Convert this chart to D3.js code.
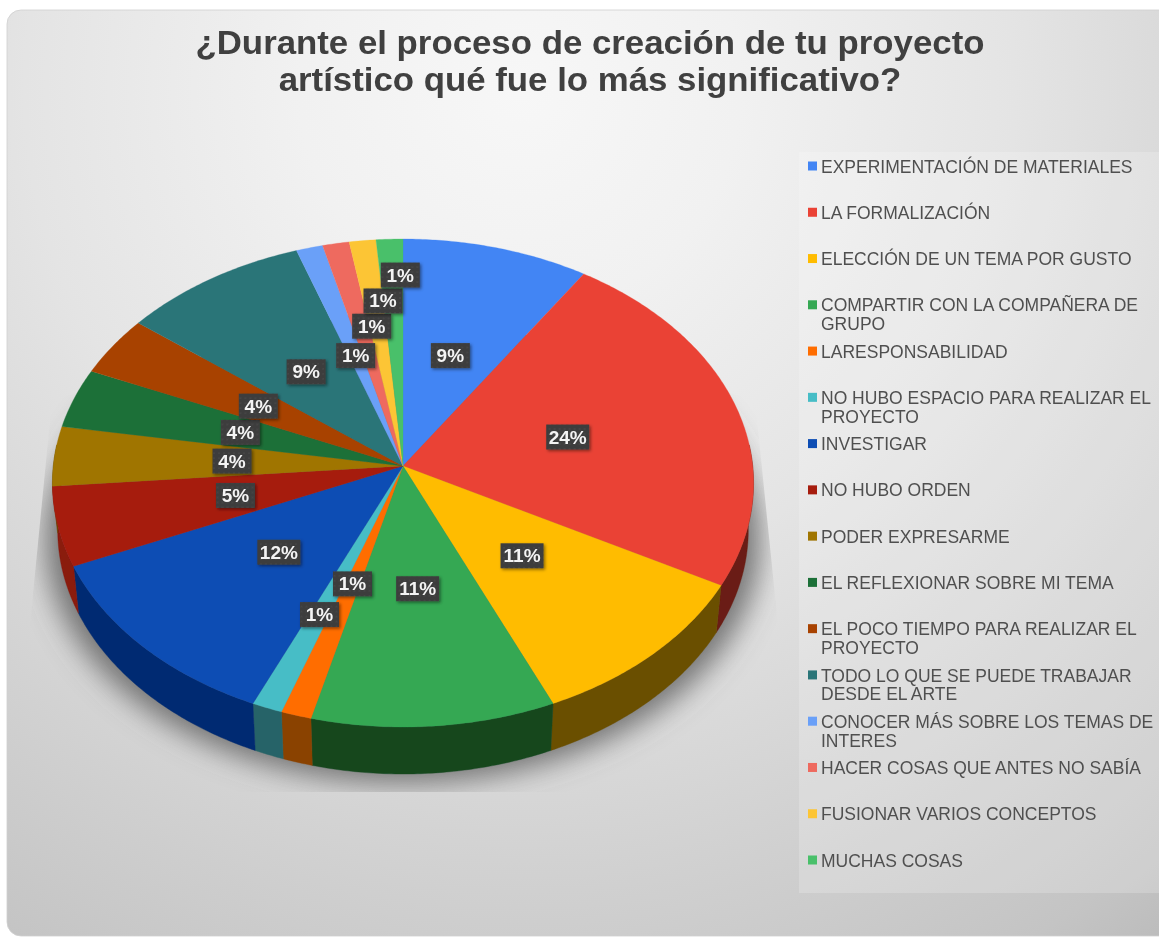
<!DOCTYPE html>
<html lang="es">
<head>
<meta charset="utf-8">
<script src="https://cdn.jsdelivr.net/npm/d3@7/dist/d3.min.js"></script>
<style>
html,body{margin:0;padding:0;background:#fff;overflow:hidden}
svg{display:block}
text{font-family:"Liberation Sans",Arial,sans-serif}
</style>
</head>
<body>
<svg id="c" width="1159" height="937"></svg>
<script>
const titleLines = ["¿Durante el proceso de creación de tu proyecto","artístico qué fue lo más significativo?"];
const categories = [
 ["EXPERIMENTACIÓN DE MATERIALES"],
 ["LA FORMALIZACIÓN"],
 ["ELECCIÓN DE UN TEMA POR GUSTO"],
 ["COMPARTIR CON LA COMPAÑERA DE","GRUPO"],
 ["LARESPONSABILIDAD"],
 ["NO HUBO ESPACIO PARA REALIZAR EL","PROYECTO"],
 ["INVESTIGAR"],
 ["NO HUBO ORDEN"],
 ["PODER EXPRESARME"],
 ["EL REFLEXIONAR SOBRE MI TEMA"],
 ["EL POCO TIEMPO PARA REALIZAR EL","PROYECTO"],
 ["TODO LO QUE SE PUEDE TRABAJAR","DESDE EL ARTE"],
 ["CONOCER MÁS SOBRE LOS TEMAS DE","INTERES"],
 ["HACER COSAS QUE ANTES NO SABÍA"],
 ["FUSIONAR VARIOS CONCEPTOS"],
 ["MUCHAS COSAS"]
];
const counts = [7,18,8,8,1,1,9,4,3,3,3,7,1,1,1,1];
const percentLabels = ["9%","24%","11%","11%","1%","1%","12%","5%","4%","4%","4%","9%","1%","1%","1%","1%"];
const labelRadius = [.49,.49,.49,.49,.49,.63,.49,.49,.49,.49,.49,.49,.49,.607,.716,.832];
const labelShiftDeg = [0,0,0,0,0,0,0,0,0,0,0,0,0,3,2.3,1.8];
const colors = ["#4285F4","#EA4335","#FFBC04","#34A853","#FF6D01","#46BDC6","#0F4DB4","#A61C10","#A07502","#1F7038","#A84300","#2A7478","#6BA0F8","#EE6A5E","#FCC534","#48C06A"];
const sideColors = ["#24477f","#6A1B12","#6B4F00","#14471F","#8A4200","#286468","#032C72","#8A1A0D","#6b4f00","#14471f","#6b2b00","#1b4b4e","#3b5c96","#8a3c36","#8a6c1c","#2a6a3c"];

const svg = d3.select("#c");
const defs = svg.append("defs");

// background gradient
const bg = defs.append("radialGradient").attr("id","bg")
  .attr("gradientUnits","userSpaceOnUse").attr("cx",520).attr("cy",90).attr("r",1100);
[[0,"#f7f7f7"],[.2,"#f1f1f1"],[.45,"#e4e4e4"],[.7,"#d2d2d2"],[.9,"#c4c4c4"],[1,"#b8b8b8"]]
  .forEach(s=>bg.append("stop").attr("offset",s[0]).attr("stop-color",s[1]));
const f1 = defs.append("filter").attr("id","soft").attr("x","-5%").attr("y","-5%").attr("width","110%").attr("height","110%");
f1.append("feGaussianBlur").attr("stdDeviation",.45);
const f2 = defs.append("filter").attr("id","shadowBlur").attr("x","-20%").attr("y","-20%").attr("width","140%").attr("height","140%");
f2.append("feGaussianBlur").attr("stdDeviation",14);
const f3 = defs.append("filter").attr("id","boxShadow").attr("x","-30%").attr("y","-30%").attr("width","170%").attr("height","170%");
f3.append("feDropShadow").attr("dx",1.5).attr("dy",1.5).attr("stdDeviation",1.5).attr("flood-color","#000").attr("flood-opacity",.45);
const dots = defs.append("pattern").attr("id","dots").attr("width",5).attr("height",5).attr("patternUnits","userSpaceOnUse");
dots.append("rect").attr("width",5).attr("height",5).attr("fill","#3d3d3d");
dots.append("circle").attr("cx",2).attr("cy",2).attr("r",.8).attr("fill","#4c4c4c");
defs.append("clipPath").attr("id","shadowClip").append("path")
  .attr("d","M52,400L30,625L30,792L778,792L778,625L755,400L403,300Z");

const root = svg.append("g").attr("filter","url(#soft)");
root.append("rect").attr("x",7).attr("y",10).attr("width",1170).attr("height",926).attr("rx",14)
  .attr("fill","url(#bg)").attr("stroke","#cfcfcf").attr("stroke-width",.8);
root.append("rect").attr("x",799).attr("y",152).attr("width",360).attr("height",741)
  .attr("fill","#fff").attr("fill-opacity",.2);

// title
root.append("g").selectAll("text").data(titleLines).join("text")
  .attr("transform",(d,i)=>`translate(590,${54+i*37}) scale(1.055,1)`).attr("text-anchor","middle")
  .attr("font-size",33).attr("font-weight",700).attr("fill","#404040").text(d=>d);

// perspective pie geometry
const apexX=403, apexY=466, k=.0697;
const sx=d3.scaleLinear().domain([-1,1]).range([-349.7,349.7]);
const sy=d3.scaleLinear().domain([-1,1]).range([-242.8,242.8]);
const depth=47, shrink=.985;
function proj(theta,r){
  const u=r*Math.sin(theta), v=-r*Math.cos(theta), w=1-k*v;
  return [apexX+sx(u)/w, apexY+sy(v)/w];
}
const under=p=>[apexX+(p[0]-apexX)*shrink,p[1]+depth];
const pie=d3.pie().sort(null).value(d=>d)(counts);
const arcPts=(a0,a1)=>{
  const n=Math.max(2,Math.ceil((a1-a0)/.01));
  return d3.range(n+1).map(i=>proj(a0+(a1-a0)*i/n,1));
};
const line=d3.line();

// cast shadow
root.append("g").attr("clip-path","url(#shadowClip)").append("path")
  .attr("d",line(arcPts(0,2*Math.PI).map(p=>[apexX+(p[0]-apexX)*1.02,p[1]+56]))+"Z")
  .attr("fill","#5a5a5a").attr("fill-opacity",.8).attr("filter","url(#shadowBlur)");

// sides
const sideStart=85*Math.PI/180, sideEnd=275*Math.PI/180;
root.append("g").selectAll("path").data(pie.filter(d=>d.endAngle>sideStart&&d.startAngle<sideEnd)).join("path")
  .attr("d",d=>{
    const t=arcPts(Math.max(d.startAngle,sideStart),Math.min(d.endAngle,sideEnd));
    return line(t.concat(t.map(under).reverse()))+"Z";
  })
  .attr("fill",d=>sideColors[d.index]).attr("stroke",d=>sideColors[d.index]).attr("stroke-width",.4);

// top slices
root.append("g").selectAll("path").data(pie).join("path")
  .attr("d",d=>line([[apexX,apexY]].concat(arcPts(d.startAngle,d.endAngle)))+"Z")
  .attr("fill",d=>colors[d.index]).attr("stroke",d=>colors[d.index]).attr("stroke-width",.3);

// data labels
const lab=root.append("g").selectAll("g").data(pie).join("g")
  .attr("transform",d=>{
    const a=(d.startAngle+d.endAngle)/2+labelShiftDeg[d.index]*Math.PI/180;
    const p=proj(a,labelRadius[d.index]);
    return `translate(${p[0]},${p[1]})`;
  });
const boxW=d=>percentLabels[d.index].length>2?43:39;
lab.append("rect").attr("x",d=>-boxW(d)/2).attr("y",-12.5).attr("width",boxW).attr("height",25)
  .attr("fill","url(#dots)").attr("filter","url(#boxShadow)");
lab.append("text").attr("text-anchor","middle").attr("y",6.5)
  .attr("font-size",19).attr("font-weight",700).attr("fill","#f4f4f4").text(d=>percentLabels[d.index]);

// legend
const legY=d3.scaleLinear().domain([0,15]).range([166,860]);
const leg=root.append("g").selectAll("g").data(categories).join("g")
  .attr("transform",(d,i)=>`translate(808,${legY(i)})`);
leg.append("rect").attr("x",0).attr("y",-4.5).attr("width",9).attr("height",9)
  .attr("fill",(d,i)=>colors[i]);
leg.each(function(d){
  d3.select(this).selectAll("text").data(d).join("text")
    .attr("x",13).attr("y",(t,j)=>6.6+j*18.8)
    .attr("font-size",17.5).attr("fill","#505050").text(t=>t);
});
</script>
</body>
</html>
